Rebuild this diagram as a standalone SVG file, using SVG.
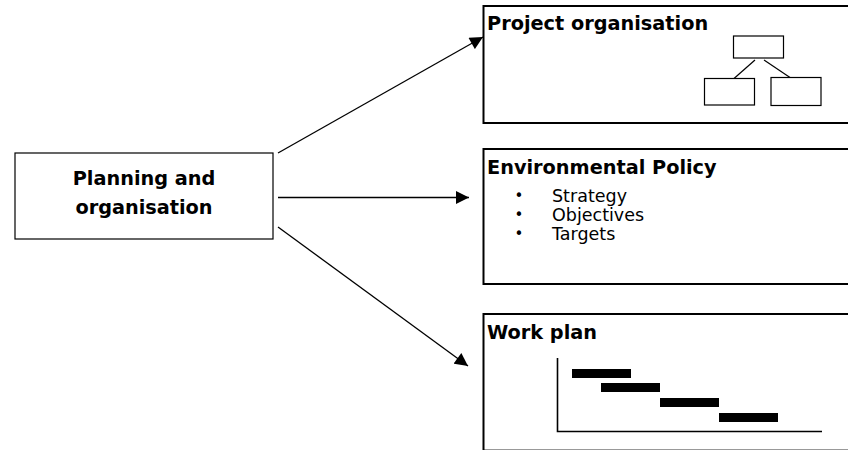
<svg xmlns="http://www.w3.org/2000/svg" width="848" height="450" viewBox="0 0 848 450">
<defs>
<marker id="arr" viewBox="0 0 10 10" refX="10" refY="5" markerWidth="14" markerHeight="13" markerUnits="userSpaceOnUse" orient="auto">
<path d="M0,0 L10,5 L0,10 z" fill="#000"/>
</marker>
<style>
.box{fill:#fff;stroke:#000;stroke-width:2}
.thin{fill:#fff;stroke:#000;stroke-width:1.2}
.h{font-family:"DejaVu Sans",Verdana,sans-serif;font-weight:bold;font-size:19.3px;fill:#000}
.t{font-family:"DejaVu Sans",Verdana,sans-serif;font-size:17.5px;fill:#000}
.b{font-family:"DejaVu Sans",Verdana,sans-serif;font-size:15px;fill:#000}
.conn{stroke:#000;stroke-width:1.3;fill:none;marker-end:url(#arr)}
.bar{fill:#000}
</style>
</defs>
<rect width="848" height="450" fill="#fff"/>
<g id="planning">
<rect class="thin" x="15" y="153" width="258" height="86"/>
<text class="h" x="144" y="185" text-anchor="middle">Planning and</text>
<text class="h" x="144" y="214" text-anchor="middle">organisation</text>
</g>
<g id="project-organisation">
<rect class="box" x="483.5" y="6" width="400" height="117"/>
<text class="h" x="487" y="30">Project organisation</text>
<rect class="thin" x="733.5" y="36" width="50" height="22"/>
<rect class="thin" x="704.5" y="78.5" width="50" height="26.5"/>
<rect class="thin" x="771" y="77.5" width="50" height="28"/>
<line x1="755" y1="60" x2="734" y2="78.5" stroke="#000" stroke-width="1.2"/>
<line x1="764" y1="60" x2="790" y2="77.5" stroke="#000" stroke-width="1.2"/>
</g>
<g id="environmental-policy">
<rect class="box" x="483.5" y="149" width="400" height="135"/>
<text class="h" x="487" y="174">Environmental Policy</text>
<text class="b" x="514.5" y="200.5">•</text>
<text class="t" x="552" y="202">Strategy</text>
<text class="b" x="514.5" y="219.5">•</text>
<text class="t" x="552" y="221">Objectives</text>
<text class="b" x="514.5" y="238.5">•</text>
<text class="t" x="552" y="240">Targets</text>
</g>
<g id="work-plan">
<rect class="box" x="483.5" y="314" width="400" height="136.6"/>
<text class="h" x="487" y="339">Work plan</text>
<polyline points="557.5,358 557.5,431.5 822,431.5" fill="none" stroke="#000" stroke-width="1.6"/>
<rect class="bar" x="572" y="369" width="59" height="9"/>
<rect class="bar" x="601" y="383" width="59" height="9"/>
<rect class="bar" x="660" y="398" width="59" height="9"/>
<rect class="bar" x="719" y="413" width="59" height="9"/>
</g>
<g id="connectors">
<line class="conn" x1="278" y1="153" x2="483" y2="37"/>
<line class="conn" x1="278" y1="197.5" x2="469" y2="197.5"/>
<line class="conn" x1="278" y1="227" x2="468" y2="366"/>
</g>
</svg>
